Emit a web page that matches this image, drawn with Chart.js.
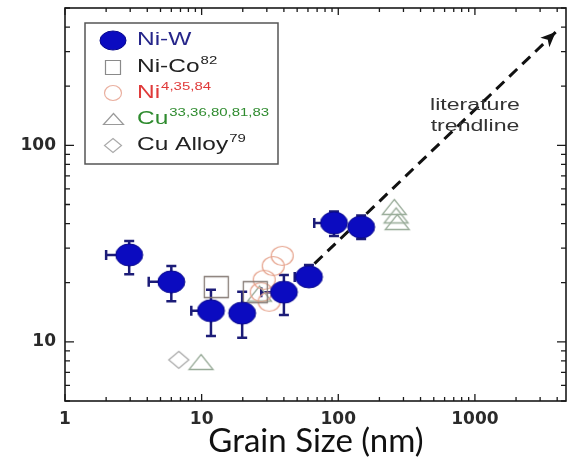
<!DOCTYPE html>
<html>
<head>
<meta charset="utf-8">
<script src="https://cdn.jsdelivr.net/npm/chart.js@4.4.1/dist/chart.umd.min.js"></script>
<style>
  html, body { margin: 0; padding: 0; background: #fff; overflow: hidden; }
  #wrap { width: 567px; height: 463px; }
</style>
</head>
<body>
<div id="wrap"><canvas id="hardnessChart"></canvas></div>
<script>
// Ni-W points (grain size in nm) with their error bounds
const niwSize = [2.95, 6.0, 11.7, 19.8, 40, 61, 93, 147];
const niwValue = [27.7, 20.2, 14.4, 14.0, 17.9, 21.4, 40.3, 38.4];
const niwUpper = [32.6, 24.3, 18.4, 18.0, 21.9, 24.6, 46, 44];
const niwLower = [22.1, 16.1, 10.7, 10.5, 13.7, 19.5, 34.6, 33.4];
const niwSizeLower = [2.0, 4.1, 8.4, null, 27.3, 48, 66.7, null];

const nicoSize = [12.8, 24.7];
const nicoValue = [19.0, 17.9];

const niSize = [38.9, 33.4, 28.7, 27.3, 31.2];
const niValue = [27.4, 24.3, 20.7, 17.9, 16.0];

const cuSize = [9.9, 26.5, 257, 265, 270];
const cuValue = [7.9, 17.6, 48.6, 44, 40.7];

const cuAlloySize = [6.8];
const cuAlloyValue = [8.1];

// dashed literature trend (start, arrow tip)
const trendSize = [67, 3900];
const trendValue = [25, 377];

const xTickVals = [1, 10, 100, 1000];
const yTickVals = [10, 100];

const legendNames = ['Ni-W', 'Ni-Co', 'Ni', 'Cu', 'Cu Alloy'];
const legendRefs = ['', '82', '4,35,84', '33,36,80,81,83', '79'];
const legendColors = ['#25258a', '#222222', '#e03a3a', '#2e8b2e', '#222222'];
const trendLabel = ['literature', 'trendline'];

const STRETCH = 1.36; // figure text is horizontally wide

function pts(xs, ys) {
    return xs.map((v, i) => ({ x: v, y: ys[i] }));
}

// small canvases used as point styles (markers are a bit wider than tall)
function makeMarker(shape, w, h, stroke, fill, lw) {
    const c = document.createElement('canvas');
    c.width = Math.ceil(w + lw * 2 + 2);
    c.height = Math.ceil(h + lw * 2 + 2);
    const g = c.getContext('2d');
    const cx = c.width / 2, cy = c.height / 2;
    g.beginPath();
    if (shape === 'ellipse') {
        g.ellipse(cx, cy, w / 2, h / 2, 0, 0, Math.PI * 2);
    } else if (shape === 'rect') {
        g.rect(cx - w / 2, cy - h / 2, w, h);
    } else if (shape === 'triangle') {
        g.moveTo(cx, cy - h / 2);
        g.lineTo(cx + w / 2, cy + h / 2);
        g.lineTo(cx - w / 2, cy + h / 2);
        g.closePath();
    } else if (shape === 'diamond') {
        g.moveTo(cx, cy - h / 2);
        g.lineTo(cx + w / 2, cy);
        g.lineTo(cx, cy + h / 2);
        g.lineTo(cx - w / 2, cy);
        g.closePath();
    }
    if (fill) { g.fillStyle = fill; g.fill(); }
    if (stroke) { g.strokeStyle = stroke; g.lineWidth = lw; g.stroke(); }
    return c;
}

const NIW_FILL = '#0b0bc0';
const markers = {
    niw: makeMarker('ellipse', 27, 22, '#07078c', NIW_FILL, 1),
    nico: makeMarker('rect', 24, 21, '#857a74', null, 1.3),
    ni: makeMarker('ellipse', 22, 19, '#e6a48e', null, 1.2),
    cu: makeMarker('triangle', 24, 15, '#98ab98', null, 1.3),
    cuAlloy: makeMarker('diamond', 20, 17, '#aaaaaa', null, 1.3)
};
const legendMarkers = [
    makeMarker('ellipse', 26, 19, '#07078c', NIW_FILL, 1),
    makeMarker('rect', 15, 14, '#8a8a8a', null, 1.2),
    makeMarker('ellipse', 17, 15, '#eab0a0', null, 1.2),
    makeMarker('triangle', 20, 11, '#9a9a9a', null, 1.2),
    makeMarker('diamond', 17, 14, '#aaaaaa', null, 1.2)
];

function wideText(ctx, text, x, y) {
    ctx.save();
    ctx.translate(x, y);
    ctx.scale(STRETCH, 1);
    ctx.fillText(text, 0, 0);
    ctx.restore();
    return ctx.measureText(text).width * STRETCH;
}

// Ni-W error bars, drawn under the markers
const errorBars = {
    id: 'errorBars',
    beforeDatasetsDraw(chart) {
        const { ctx, scales: { x, y } } = chart;
        ctx.save();
        ctx.strokeStyle = '#1c1c78';
        ctx.lineWidth = 2.5;
        niwSize.forEach((s, i) => {
            const px = x.getPixelForValue(s);
            const py = y.getPixelForValue(niwValue[i]);
            const top = y.getPixelForValue(niwUpper[i]);
            const bot = y.getPixelForValue(niwLower[i]);
            ctx.beginPath();
            ctx.moveTo(px, top); ctx.lineTo(px, bot);
            ctx.moveTo(px - 5, top); ctx.lineTo(px + 5, top);
            ctx.moveTo(px - 5, bot); ctx.lineTo(px + 5, bot);
            if (niwSizeLower[i]) {
                const lx = x.getPixelForValue(niwSizeLower[i]);
                ctx.moveTo(lx, py); ctx.lineTo(px, py);
                ctx.moveTo(lx, py - 5); ctx.lineTo(lx, py + 5);
            }
            ctx.stroke();
        });
        ctx.restore();
    }
};

// boxed frame with inward major/minor ticks, arrow head, legend and label
const decorations = {
    id: 'decorations',
    afterDatasetsDraw(chart) {
        const { ctx, chartArea: a, scales: { x, y } } = chart;
        ctx.save();

        // arrow head at the end of the trend line
        const x0 = x.getPixelForValue(trendSize[0]), y0 = y.getPixelForValue(trendValue[0]);
        const x1 = x.getPixelForValue(trendSize[1]), y1 = y.getPixelForValue(trendValue[1]);
        const ang = Math.atan2(y1 - y0, x1 - x0);
        ctx.translate(x1, y1);
        ctx.rotate(ang);
        ctx.fillStyle = '#111';
        ctx.beginPath();
        ctx.moveTo(0, 0);
        ctx.lineTo(-15, -6.5);
        ctx.lineTo(-11, 0);
        ctx.lineTo(-15, 6.5);
        ctx.closePath();
        ctx.fill();
        ctx.setTransform(1, 0, 0, 1, 0, 0);

        // frame
        ctx.strokeStyle = '#1a1a1a';
        ctx.lineWidth = 1.6;
        ctx.strokeRect(a.left, a.top, a.right - a.left - 1, a.bottom - a.top);
        ctx.lineWidth = 1.3;
        ctx.beginPath();
        for (let d = 1; d <= 1000; d *= 10) {
            for (let m = 1; m < 10; m++) {
                const v = d * m;
                if (v > x.max) break;
                const px = x.getPixelForValue(v);
                const len = m === 1 ? 7 : 4;
                ctx.moveTo(px, a.bottom); ctx.lineTo(px, a.bottom - len);
                ctx.moveTo(px, a.top); ctx.lineTo(px, a.top + len);
            }
        }
        for (let d = 1; d <= 100; d *= 10) {
            for (let m = 1; m < 10; m++) {
                const v = d * m;
                if (v < y.min || v > y.max) continue;
                const py = y.getPixelForValue(v);
                const len = m === 1 ? 9 : 5;
                ctx.moveTo(a.left, py); ctx.lineTo(a.left + len, py);
                ctx.moveTo(a.right - 1, py); ctx.lineTo(a.right - 1 - len, py);
            }
        }
        ctx.stroke();

        // legend
        ctx.strokeStyle = '#555';
        ctx.lineWidth = 1.5;
        ctx.strokeRect(85, 23, 193, 141);
        const rows = [40, 67, 93, 119, 145];
        ctx.textBaseline = 'middle';
        legendNames.forEach((name, i) => {
            const m = legendMarkers[i];
            ctx.drawImage(m, Math.round(113 - m.width / 2), Math.round(rows[i] - m.height / 2));
            ctx.fillStyle = legendColors[i];
            ctx.font = '18px "Liberation Sans", Arial, sans-serif';
            const w = wideText(ctx, name, 137, rows[i]);
            if (legendRefs[i]) {
                ctx.font = '11px "Liberation Sans", Arial, sans-serif';
                wideText(ctx, legendRefs[i], 138 + w, rows[i] - 6);
            }
        });

        // trend line label
        ctx.fillStyle = '#333';
        ctx.font = '17px "Liberation Sans", Arial, sans-serif';
        trendLabel.forEach((t, i) => {
            const w = ctx.measureText(t).width * STRETCH;
            wideText(ctx, t, 475 - w / 2, 105 + i * 21);
        });
        ctx.restore();
    }
};

const tickFont = { family: '"DejaVu Sans", sans-serif', size: 17, weight: 'bold' };

// keep the plot box fixed: no extra room reserved for edge labels
function fixX(s) {
    s.height = 62;
    s.paddingLeft = 0;
    s.paddingRight = 0;
}
function fixY(s) {
    s.width = 65;
    s.paddingTop = 0;
    s.paddingBottom = 0;
}

const chart = new Chart(document.getElementById('hardnessChart'), {
    type: 'scatter',
    data: {
        datasets: [
            { label: 'Ni-W', data: pts(niwSize, niwValue), pointStyle: markers.niw, pointRadius: 12 },
            {
                label: 'trend', data: pts(trendSize, trendValue), showLine: true, pointRadius: 0,
                borderColor: '#111', borderWidth: 3, borderDash: [11, 7]
            },
            { label: 'Ni-Co', data: pts(nicoSize, nicoValue), pointStyle: markers.nico, pointRadius: 12 },
            { label: 'Ni', data: pts(niSize, niValue), pointStyle: markers.ni, pointRadius: 11 },
            { label: 'Cu', data: pts(cuSize, cuValue), pointStyle: markers.cu, pointRadius: 12 },
            { label: 'Cu Alloy', data: pts(cuAlloySize, cuAlloyValue), pointStyle: markers.cuAlloy, pointRadius: 10 }
        ]
    },
    options: {
        responsive: true,
        maintainAspectRatio: false,
        animation: false,
        events: [],
        layout: { autoPadding: false, padding: { top: 8, right: 0, left: 0, bottom: 0 } },
        plugins: {
            legend: { display: false },
            tooltip: { enabled: false }
        },
        scales: {
            x: {
                type: 'logarithmic',
                min: 1,
                max: 4720,
                grid: { display: false, drawTicks: false },
                border: { display: false },
                afterBuildTicks: s => { s.ticks = xTickVals.map(v => ({ value: v })); },
                afterFit: fixX,
                ticks: {
                    autoSkip: false, maxRotation: 0, padding: 8,
                    color: '#2a2a2a', font: tickFont,
                    callback: v => String(v)
                },
                title: {
                    display: true,
                    text: 'Grain Size (nm)',
                    color: '#111',
                    font: { family: 'Lato, "Open Sans", sans-serif', size: 33 },
                    padding: { top: 0, bottom: 2 }
                }
            },
            y: {
                type: 'logarithmic',
                min: 5,
                max: 500,
                grid: { display: false, drawTicks: false },
                border: { display: false },
                afterBuildTicks: s => { s.ticks = yTickVals.map(v => ({ value: v })); },
                afterFit: fixY,
                ticks: {
                    autoSkip: false, padding: 9,
                    color: '#2a2a2a', font: tickFont,
                    callback: v => String(v)
                }
            }
        }
    },
    plugins: [errorBars, decorations]
});
</script>
</body>
</html>
